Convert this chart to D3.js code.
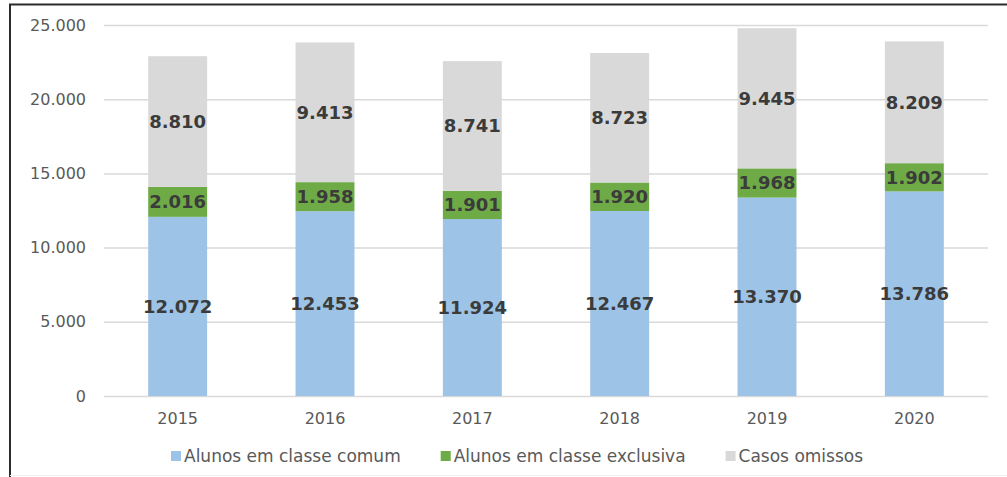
<!DOCTYPE html>
<html>
<head>
<meta charset="utf-8">
<script src="https://cdn.jsdelivr.net/npm/d3@7"></script>
<style>
  body { margin: 0; background: #fff; }
  svg { display: block; }
</style>
</head>
<body>
<script>
const years = ["2015", "2016", "2017", "2018", "2019", "2020"];
const comum = [12072, 12453, 11924, 12467, 13370, 13786];
const exclusiva = [2016, 1958, 1901, 1920, 1968, 1902];
const omissos = [8810, 9413, 8741, 8723, 9445, 8209];
const seriesNames = ["Alunos em classe comum", "Alunos em classe exclusiva", "Casos omissos"];
const yTicks = [0, 5000, 10000, 15000, 20000, 25000];

const w = 1007;
const h = 477;
const colors = ["#9dc3e6", "#6eab47", "#d9d9d9"];

const locale = d3.formatLocale({ decimal: ",", thousands: ".", grouping: [3], currency: ["", ""] });
const fmt = locale.format(",d");

const rows = years.map((y, i) => ({ year: y, comum: comum[i], exclusiva: exclusiva[i], omissos: omissos[i] }));
const stack = d3.stack().keys(["comum", "exclusiva", "omissos"])(rows);

const svg = d3.select("body").append("svg")
    .attr("width", w)
    .attr("height", h);

// frame of the scanned figure
svg.append("line").attr("x1", 9).attr("x2", w).attr("y1", 4.5).attr("y2", 4.5)
    .attr("stroke", "#2b2b2b").attr("stroke-width", 2);
svg.append("line").attr("x1", 10).attr("x2", 10).attr("y1", 4).attr("y2", h)
    .attr("stroke", "#2b2b2b").attr("stroke-width", 2);
svg.append("line").attr("x1", 10).attr("x2", w).attr("y1", 475.5).attr("y2", 475.5)
    .attr("stroke", "#f0f0f0").attr("stroke-width", 1);

const xScale = d3.scaleBand()
    .domain(years)
    .range([104, 988])
    .paddingInner(0.6)
    .paddingOuter(0.3);

const yScale = d3.scaleLinear()
    .domain([0, 25000])
    .range([396, 25]);

// gridlines
svg.append("g")
    .selectAll("line")
    .data(yTicks)
    .enter()
    .append("line")
    .attr("x1", 104)
    .attr("x2", 988)
    .attr("y1", d => yScale(d) + 0.5)
    .attr("y2", d => yScale(d) + 0.5)
    .attr("stroke", "#d9d9d9")
    .attr("stroke-width", 1.5);

// y axis labels
const yAxis = d3.axisLeft(yScale).tickValues(yTicks).tickFormat(fmt).tickSize(0).tickPadding(0);
const gy = svg.append("g")
    .attr("transform", "translate(86,0)")
    .call(yAxis);
gy.select(".domain").remove();
gy.selectAll("text")
    .attr("fill", "#595959")
    .style("font-family", "DejaVu Sans")
    .style("font-size", "16px");

// x axis labels
const xAxis = d3.axisBottom(xScale).tickSize(0).tickPadding(0);
const gx = svg.append("g")
    .attr("transform", "translate(0,413)")
    .call(xAxis);
gx.select(".domain").remove();
gx.selectAll("text")
    .attr("fill", "#595959")
    .style("font-family", "DejaVu Sans")
    .style("font-size", "16px");

// bars
const layers = svg.selectAll("g.layer")
    .data(stack)
    .enter()
    .append("g")
    .attr("class", "layer")
    .attr("fill", (d, i) => colors[i]);

layers.selectAll("rect")
    .data(d => d)
    .enter()
    .append("rect")
    .attr("x", d => xScale(d.data.year))
    .attr("y", d => yScale(d[1]))
    .attr("width", xScale.bandwidth())
    .attr("height", d => yScale(d[0]) - yScale(d[1]));

// value labels
layers.selectAll("text")
    .data(d => d)
    .enter()
    .append("text")
    .attr("x", d => xScale(d.data.year) + xScale.bandwidth() / 2)
    .attr("y", d => (yScale(d[0]) + yScale(d[1])) / 2)
    .attr("dy", "0.36em")
    .attr("text-anchor", "middle")
    .attr("fill", "#3b3b3b")
    .style("font-family", "DejaVu Sans")
    .style("font-weight", "bold")
    .style("font-size", "18px")
    .text(d => fmt(d[1] - d[0]));

// legend
const legend = svg.append("g").attr("transform", "translate(0,456)");
let lx = 171;
seriesNames.forEach((name, i) => {
    legend.append("rect")
        .attr("x", lx)
        .attr("y", -5)
        .attr("width", 10)
        .attr("height", 10)
        .attr("fill", colors[i]);
    const t = legend.append("text")
        .attr("x", lx + 13)
        .attr("y", 0)
        .attr("dy", "0.35em")
        .attr("fill", "#595959")
        .style("font-family", "DejaVu Sans")
        .style("font-size", "17px")
        .text(name);
    lx += 13 + t.node().getComputedTextLength() + 40;
});
</script>
</body>
</html>
